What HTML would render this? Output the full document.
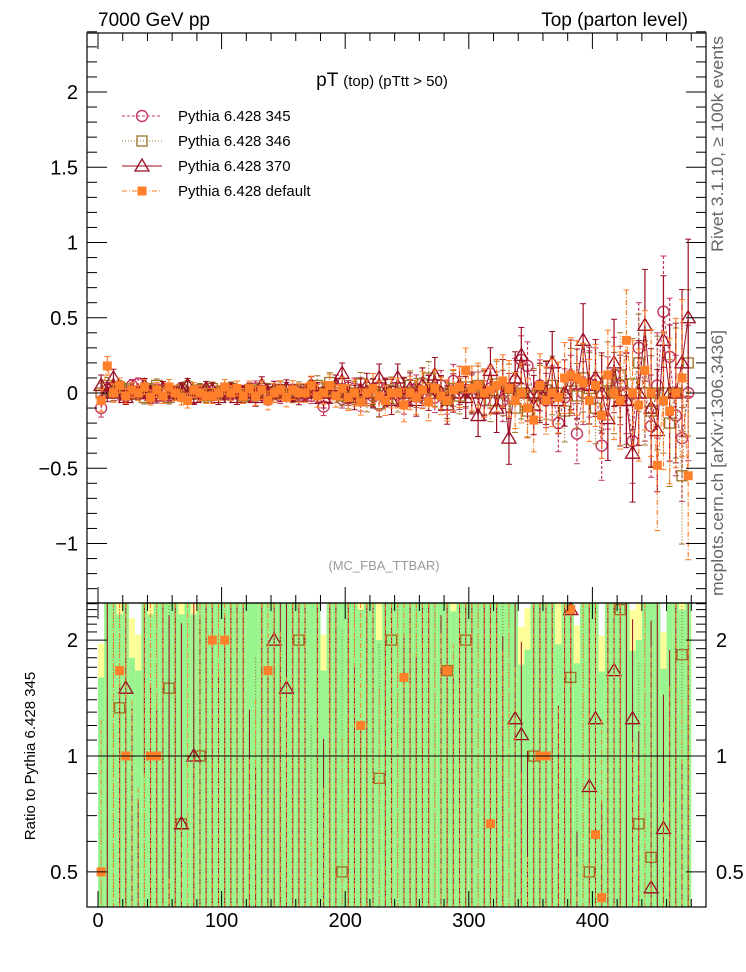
<!DOCTYPE html>
<html><head><meta charset="utf-8"><style>
body{margin:0;background:#fff;}
svg{display:block;font-family:"Liberation Sans",sans-serif;}
</style></head><body>
<svg id="chart" width="746" height="972" viewBox="0 0 746 972" xmlns="http://www.w3.org/2000/svg">
<g id="bands"></g>
<g id="marks"></g>
<g id="axes"></g>
<text x="98" y="26" font-size="19">7000 GeV pp</text>
<text x="688" y="26" font-size="19" text-anchor="end">Top (parton level)</text>
<text x="382" y="86" font-size="19" text-anchor="middle">pT <tspan font-size="15">(top) (pTtt &gt; 50)</tspan></text>
<text x="384" y="570" font-size="13" fill="#999" text-anchor="middle">(MC_FBA_TTBAR)</text>
<text transform="translate(723,252) rotate(-90)" font-size="16.5" fill="#666" textLength="216" lengthAdjust="spacingAndGlyphs">Rivet 3.1.10, ≥ 100k events</text>
<text transform="translate(723,596) rotate(-90)" font-size="16.5" fill="#666" textLength="266" lengthAdjust="spacingAndGlyphs">mcplots.cern.ch [arXiv:1306.3436]</text>
<text transform="translate(35,756) rotate(-90)" font-size="15" text-anchor="middle">Ratio to Pythia 6.428 345</text>
<g id="legend"></g>
</svg>
<script>
const categories = [];
for (let i = 0; i < 96; i++) categories.push(2.5 + 5 * i);
const s345 = [-0.1,0.02,0.0,0.03,-0.02,0.05,0.06,0.0,-0.03,0.02,0.01,-0.02,0.0,0.03,-0.01,-0.03,0.02,0.0,-0.01,0.01,
0.02,-0.01,0.0,0.01,-0.02,0.03,0.0,-0.03,0.01,-0.02,0.02,0.0,0.01,-0.01,-0.02,0.0,-0.09,0.0,0.02,-0.04,
0.0,0.03,-0.05,0.0,-0.02,-0.08,0.02,0.01,-0.01,-0.05,0.0,0.03,0.0,0.02,-0.03,0.05,-0.03,0.08,0.0,0.02,
0.0,0.02,-0.05,0.03,0.0,-0.05,-0.02,0.08,0.22,0.18,-0.02,0.05,-0.05,0.0,-0.2,-0.03,0.05,-0.27,0.0,0.06,
0.08,-0.35,0.0,0.12,0.05,0.0,-0.32,0.3,0.0,-0.22,0.05,0.54,0.24,-0.15,-0.3,0.0];
const s346 = [0.0,0.05,0.0,0.04,0.02,0.0,0.0,-0.03,0.02,0.05,0.0,-0.03,0.0,0.02,0.04,0.0,0.02,-0.02,0.03,0.0,
0.0,0.03,0.01,-0.02,0.02,0.0,0.03,0.01,-0.01,0.02,0.0,-0.01,0.02,0.0,0.03,0.05,0.0,0.07,0.0,-0.02,
-0.03,0.0,0.06,-0.05,0.01,-0.07,0.0,0.02,-0.04,0.0,0.05,0.0,0.06,0.1,0.02,0.0,-0.05,0.03,-0.02,0.04,
0.0,0.05,0.0,-0.05,0.06,0.0,0.03,-0.1,0.0,-0.12,-0.02,0.0,0.02,0.05,0.0,-0.12,0.08,-0.02,0.1,0.03,
-0.1,0.0,0.08,0.0,0.12,-0.05,0.06,0.2,0.0,-0.12,0.0,0.0,-0.2,0.0,-0.55,0.2];
const s370 = [0.05,0.0,0.1,0.0,-0.03,0.02,0.0,0.05,0.0,-0.02,0.03,0.0,0.0,0.02,0.05,-0.03,0.0,0.03,0.02,-0.03,
0.0,0.02,-0.03,0.0,0.02,-0.03,0.05,0.0,0.02,0.0,0.03,0.0,-0.02,0.0,0.05,0.0,-0.03,0.0,0.05,0.13,
0.0,-0.03,0.02,0.05,0.0,0.1,0.0,-0.05,0.1,0.0,0.03,-0.05,0.05,0.0,0.12,0.0,-0.08,0.0,0.05,-0.03,
0.0,-0.15,0.0,0.15,-0.1,0.06,-0.3,0.1,0.25,0.0,-0.08,0.0,0.0,0.2,-0.05,0.0,0.12,0.06,0.35,0.05,
0.1,0.0,-0.17,0.2,-0.05,-0.05,-0.4,0.0,0.45,-0.1,-0.25,0.35,0.0,0.0,0.2,0.5];
const sDef = [-0.05,0.18,0.0,0.05,-0.02,0.02,0.0,0.04,-0.03,0.02,-0.02,0.04,0.0,-0.03,-0.05,0.02,0.0,-0.02,-0.02,0.0,
0.04,0.0,0.03,-0.02,0.03,-0.02,0.02,-0.05,0.0,0.02,-0.03,0.02,0.0,0.0,0.05,-0.02,0.0,0.05,-0.02,0.03,
-0.03,0.0,-0.06,0.0,0.03,-0.02,-0.05,0.0,0.0,-0.08,0.0,-0.03,0.02,-0.06,0.03,-0.02,-0.05,0.02,0.04,0.15,
0.03,0.05,0.0,0.02,0.05,0.08,0.03,-0.05,0.0,-0.1,-0.18,0.05,-0.05,0.0,-0.03,0.1,0.12,0.1,0.07,-0.05,
0.05,-0.15,0.12,0.0,-0.05,0.35,0.0,-0.08,0.15,0.0,-0.48,-0.05,-0.12,0.0,0.1,-0.55];
const errs = [0.06,0.05,0.05,0.04,0.04,0.04,0.04,0.04,0.04,0.04,0.04,0.04,0.04,0.04,0.04,0.04,0.04,0.04,0.04,0.04,
0.04,0.04,0.04,0.04,0.04,0.05,0.05,0.05,0.05,0.05,0.05,0.05,0.05,0.05,0.05,0.06,0.06,0.06,0.06,0.06,
0.07,0.07,0.07,0.07,0.08,0.08,0.08,0.08,0.08,0.09,0.09,0.09,0.1,0.1,0.1,0.1,0.11,0.11,0.11,0.12,
0.12,0.12,0.13,0.13,0.14,0.14,0.15,0.15,0.16,0.16,0.17,0.17,0.18,0.18,0.19,0.19,0.2,0.2,0.21,0.22,
0.22,0.23,0.24,0.25,0.26,0.27,0.28,0.3,0.32,0.34,0.35,0.37,0.39,0.4,0.42,0.45];
const xTicks = [0,100,200,300,400];
const yTicksTop = [-1,-0.5,0,0.5,1,1.5,2];
const yTicksRatio = [0.5,1,2];

const NS = "http://www.w3.org/2000/svg";
const X0 = 87, X1 = 706, T0 = 33, T1 = 603, B1 = 907;
const xs = v => 98 + v * 1.236;
const ys = v => 393 - v * 150.5;
const yr = v => 756 - Math.log10(v) * 385;
function mk(parent, tag, attrs) {
  const e = document.createElementNS(NS, tag);
  for (const k in attrs) e.setAttribute(k, attrs[k]);
  parent.appendChild(e); return e;
}
const bands = document.getElementById('bands');
const marks = document.getElementById('marks');
const axes = document.getElementById('axes');
const legend = document.getElementById('legend');

const clipR = v => Math.min(B1, Math.max(T1, v));
categories.forEach((c, i) => {
  const ref = Math.max(Math.abs(s345[i]), 0.004);
  const rel = errs[i] / ref;
  const xa = xs(c - 2.5), xb = xs(c + 2.5);
  const relY = rel * 1.6;
  const yTopY = clipR(yr(1 + relY)), yBotY = clipR(1 - relY > 0.01 ? yr(1 - relY) : B1);
  const by = mk(bands, 'rect', {x: xa, y: yTopY, width: xb - xa, height: yBotY - yTopY, fill: '#ffff99'});
  
  
  const yT = clipR(yr(1 + rel)), yB = clipR(1 - rel > 0.01 ? yr(1 - rel) : B1);
  const bg = mk(bands, 'rect', {x: xa, y: yT, width: xb - xa, height: yB - yT, fill: '#99f48f'});
  
  
});

const series = [
  {name: 'Pythia 6.428 345', data: s345, color: '#c3385f', dash: '3,2', mark: 'circle'},
  {name: 'Pythia 6.428 346', data: s346, color: '#9c7226', dash: '1,2', mark: 'square'},
  {name: 'Pythia 6.428 370', data: s370, color: '#9b0d22', dash: '', mark: 'triangle'},
  {name: 'Pythia 6.428 default', data: sDef, color: '#ff7f2a', dash: '5,2,1,2', mark: 'fsquare'}
];
function marker(g, type, x, y, col) {
  let e;
  if (type === 'circle') e = mk(g, 'circle', {cx: x, cy: y, r: 5.5, fill: 'none', stroke: col, 'stroke-width': 1.4});
  else if (type === 'square') e = mk(g, 'rect', {x: x - 5, y: y - 5, width: 10, height: 10, fill: 'none', stroke: col, 'stroke-width': 1.3});
  else if (type === 'triangle') e = mk(g, 'polygon', {points: `${x},${y - 7} ${x - 7},${y + 5} ${x + 7},${y + 5}`, fill: 'none', stroke: col, 'stroke-width': 1.3});
  else e = mk(g, 'rect', {x: x - 4.5, y: y - 4.5, width: 9, height: 9, fill: col});
  return e;
}
series.forEach((s, si) => {
  const g = mk(marks, 'g', {});
  
  
  const pts = categories.map((c, i) => xs(c) + ',' + ys(s.data[i])).join(' ');
  const pl = mk(g, 'polyline', {points: pts, fill: 'none', stroke: s.color, 'stroke-width': 1, 'stroke-dasharray': s.dash});
  
  
  categories.forEach((c, i) => {
    const x = xs(c), y = ys(s.data[i]);
    const e = errs[i] * (1 + 0.08 * si);
    const ya = ys(s.data[i] + e), yb = ys(s.data[i] - e);
    mk(g, 'line', {x1: x, x2: x, y1: ya, y2: yb, stroke: s.color, 'stroke-width': 1.2, 'stroke-dasharray': s.dash});
    mk(g, 'line', {x1: x - 3, x2: x + 3, y1: ya, y2: ya, stroke: s.color, 'stroke-width': 1});
    mk(g, 'line', {x1: x - 3, x2: x + 3, y1: yb, y2: yb, stroke: s.color, 'stroke-width': 1});
    const m = marker(g, s.mark, x, y, s.color);
    
    
    if (si === 0) return;
    const ref = Math.abs(s345[i]) < 0.004 ? 0.004 * (s345[i] < 0 ? -1 : 1) : s345[i];
    const r = s.data[i] / ref;
    const re = Math.abs(e / ref);
    const lo = r - re, hi = r + re;
    const yh = clipR(hi > 0 ? yr(hi) : B1), yl = clipR(lo > 0.01 ? yr(lo) : B1);
    if (yl > yh) mk(g, 'line', {x1: x, x2: x, y1: yh, y2: yl, stroke: s.color, 'stroke-width': 1, 'stroke-dasharray': s.dash});
    if (r > 0 && yr(r) > T1 + 4 && yr(r) < B1 - 4) {
      const rm = marker(g, s.mark, x, yr(r), s.color);
      
      
    }
  });
});

series.forEach((s, i) => {
  const y = 116 + i * 25;
  const g = mk(legend, 'g', {});
  
  
  mk(g, 'line', {x1: 122, x2: 162, y1: y, y2: y, stroke: s.color, 'stroke-dasharray': s.dash});
  marker(g, s.mark, 142, y, s.color);
  const t = mk(g, 'text', {x: 178, y: y + 5, 'font-size': 15});
  t.textContent = s.name;
});

[[T0, T1], [T1, B1]].forEach(([a, b]) => mk(axes, 'rect', {x: X0, y: a, width: X1 - X0, height: b - a, fill: 'none', stroke: '#000', 'stroke-width': 1.2}));
mk(axes, 'line', {x1: X0, x2: X1, y1: 756, y2: 756, stroke: '#000', 'stroke-width': 1});
for (let v = -20; v <= 490; v += 20) {
  const x = xs(v); if (x < X0 || x > X1) continue;
  const major = v % 100 === 0;
  const L = major ? 16 : 8;
  mk(axes, 'line', {x1: x, x2: x, y1: B1, y2: B1 - L, stroke: '#000'});
  mk(axes, 'line', {x1: x, x2: x, y1: T1, y2: T1 + L, stroke: '#000'});
  mk(axes, 'line', {x1: x, x2: x, y1: T0, y2: T0 + L, stroke: '#000'});
  mk(axes, 'line', {x1: x, x2: x, y1: T1, y2: T1 - L, stroke: '#000'});
}
xTicks.forEach(v => {
  const t = mk(axes, 'text', {x: xs(v), y: 927, 'font-size': 20, 'text-anchor': 'middle'});
  
  
  t.textContent = v;
});
for (let k = -14; k <= 24; k++) {
  const v = k / 10, y = ys(v);
  const L = k % 5 === 0 ? 20 : 10;
  mk(axes, 'line', {x1: X0, x2: X0 + L, y1: y, y2: y, stroke: '#000'});
  mk(axes, 'line', {x1: X1, x2: X1 - L, y1: y, y2: y, stroke: '#000'});
}
yTicksTop.forEach(v => {
  const t = mk(axes, 'text', {x: 78, y: ys(v) + 7, 'font-size': 20, 'text-anchor': 'end'});
  
  
  t.textContent = v < 0 ? '\u2212' + Math.abs(v) : v;
});
for (let k = 4; k <= 25; k++) {
  const v = k / 10, y = yr(v);
  if (y < T1 || y > B1) continue;
  const L = (k === 5 || k === 10 || k === 20) ? 20 : 10;
  mk(axes, 'line', {x1: X0, x2: X0 + L, y1: y, y2: y, stroke: '#000'});
  mk(axes, 'line', {x1: X1, x2: X1 - L, y1: y, y2: y, stroke: '#000'});
}
yTicksRatio.forEach(v => {
  const t = mk(axes, 'text', {x: 78, y: yr(v) + 7, 'font-size': 20, 'text-anchor': 'end'});
  
  
  t.textContent = v;
  const t2 = mk(axes, 'text', {x: 716, y: yr(v) + 7, 'font-size': 20});
  
  
  t2.textContent = v;
});
</script>
</body></html>
